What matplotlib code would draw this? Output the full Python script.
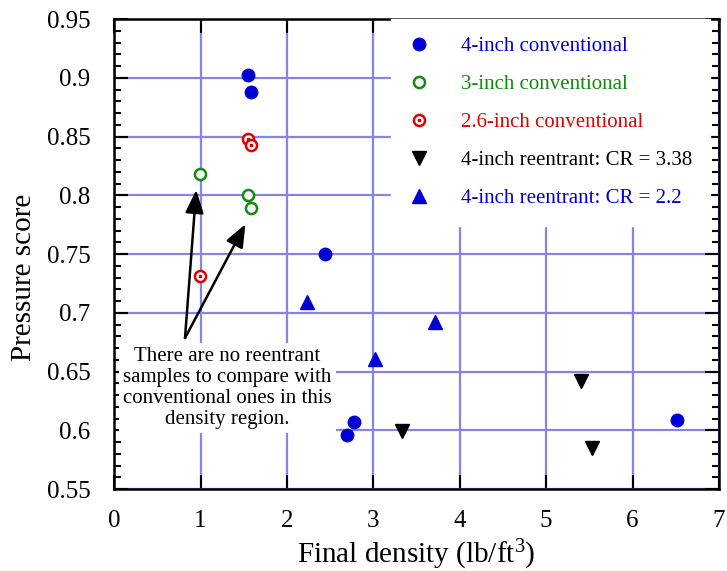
import matplotlib
matplotlib.use('Agg')
import matplotlib.pyplot as plt
from matplotlib.lines import Line2D
from matplotlib.legend_handler import HandlerTuple
from matplotlib.ticker import MultipleLocator

plt.rcParams['font.family'] = ['Liberation Serif', 'DejaVu Serif']
plt.rcParams['mathtext.fontset'] = 'custom'
plt.rcParams['mathtext.rm'] = 'Liberation Serif'
plt.rcParams['mathtext.it'] = 'Liberation Serif:italic'

# data
conv4_x = [1.55, 1.58, 2.44, 2.78, 2.69, 6.51]
conv4_y = [0.902, 0.888, 0.750, 0.607, 0.596, 0.609]
conv3_x = [0.99, 1.55, 1.58]
conv3_y = [0.818, 0.800, 0.789]
conv26_x = [1.55, 1.58, 0.99]
conv26_y = [0.848, 0.843, 0.7315]
re338_x = [3.33, 5.40, 5.53]
re338_y = [0.599, 0.642, 0.585]
re22_x = [2.23, 3.02, 3.71]
re22_y = [0.709, 0.661, 0.692]

labels = ['4-inch conventional', '3-inch conventional', '2.6-inch conventional',
          '4-inch reentrant: CR = 3.38', '4-inch reentrant: CR = 2.2']

blue = '#0000d4'
green = '#108a10'
red = '#e00000'
grid_c = '#8585e6'

fig = plt.figure(figsize=(7.27, 5.71), dpi=100)
ax = fig.add_axes([0.157, 0.1436, 0.832, 0.823])

ax.plot(conv4_x, conv4_y, 'o', color=blue, ms=9, ls='none', zorder=4)
ax.plot(conv3_x, conv3_y, 'o', mfc='white', mec=green, mew=1.8, ms=8, ls='none', zorder=4)
ax.plot(conv26_x, conv26_y, 'o', mfc='white', mec=red, mew=1.8, ms=8, ls='none', zorder=4)
ax.plot(conv26_x, conv26_y, 's', color=red, ms=2, ls='none', zorder=5)
ax.plot(re338_x, re338_y, 'v', color='black', ms=10, ls='none', zorder=4)
ax.plot(re22_x, re22_y, '^', color=blue, ms=10, ls='none', zorder=4)

ax.set_xlim(0, 7)
ax.set_ylim(0.55, 0.95)
ax.xaxis.set_major_locator(MultipleLocator(1))
ax.yaxis.set_minor_locator(MultipleLocator(0.01))
ax.set_yticks([0.55, 0.6, 0.65, 0.7, 0.75, 0.8, 0.85, 0.9, 0.95])
ax.set_yticklabels(['0.55', '0.6', '0.65', '0.7', '0.75', '0.8', '0.85', '0.9', '0.95'])
ax.tick_params(which='both', direction='in', top=True, right=True, width=1.5, labelsize=18)
ax.tick_params(axis='y', pad=17)
ax.tick_params(axis='x', pad=15)
ax.tick_params(which='major', length=10)
ax.tick_params(which='minor', length=5)
for s in ax.spines.values():
    s.set_linewidth(1.8)

ax.grid(True, which='major', color=grid_c, lw=1.6)
ax.set_axisbelow(True)

ax.set_xlabel('Final density (lb/ft$^{\\mathrm{3}}$)', fontsize=21, labelpad=4)
ax.set_ylabel('Pressure score', fontsize=21)
ax.yaxis.set_label_coords(-0.128, 0.45)

# legend
h1 = Line2D([], [], marker='o', color=blue, ms=9, ls='none')
h2 = Line2D([], [], marker='o', mfc='white', mec=green, mew=1.8, ms=8, ls='none')
h3a = Line2D([], [], marker='o', mfc='white', mec=red, mew=1.8, ms=8, ls='none')
h3b = Line2D([], [], marker='s', color=red, ms=2, ls='none')
h4 = Line2D([], [], marker='v', color='black', ms=10, ls='none')
h5 = Line2D([], [], marker='^', color=blue, ms=10, ls='none')
leg = ax.legend([h1, h2, (h3a, h3b), h4, h5], labels,
                handler_map={tuple: HandlerTuple(ndivide=1)},
                loc='upper right', bbox_to_anchor=(0.985, 1.0), borderaxespad=0,
                fontsize=15, frameon=True, fancybox=False, framealpha=1,
                facecolor='white', edgecolor='white', handlelength=1.0,
                handletextpad=1.5, labelspacing=0.88, borderpad=0.85,
                labelcolor=[blue, green, red, 'black', blue])
leg.set_zorder(3)

# annotation
ax.text(1.31, 0.636, 'There are no reentrant\nsamples to compare with\nconventional ones in this\ndensity region.',
        ha='center', va='center', fontsize=15, linespacing=1.13, zorder=3,
        bbox=dict(boxstyle='square,pad=0.2', fc='white', ec='none'))
for hx, hy in [(0.95, 0.8045), (1.52, 0.7755)]:
    ax.annotate('', xy=(hx, hy), xytext=(0.82, 0.6785),
                arrowprops=dict(arrowstyle='-|>,head_length=0.7,head_width=0.28',
                                color='black', lw=1.8,
                                mutation_scale=20, shrinkA=0, shrinkB=0),
                zorder=6)

fig.savefig('out.png', dpi=100)
